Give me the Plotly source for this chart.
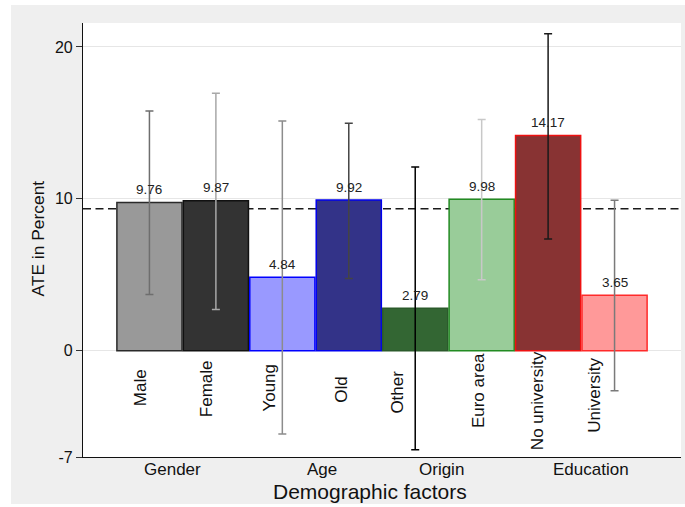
import plotly.graph_objects as go

# Average treatment effects by demographic subgroup, with confidence bounds
categories = ["Male", "Female", "Young", "Old", "Other", "Euro area", "No university", "University"]
ate = [9.76, 9.87, 4.84, 9.92, 2.79, 9.98, 14.17, 3.65]
ci_low = [3.70, 2.72, -5.48, 4.76, -6.53, 4.67, 7.35, -2.63]
ci_high = [15.78, 16.95, 15.13, 14.98, 12.10, 15.22, 20.88, 9.91]
overall_ate = 9.34

groups = ["Gender", "Age", "Origin", "Education"]
group_pos = [1.347, 3.597, 5.388, 7.646]

y_ticks = [-7, 0, 10, 20]
y_tick_text = ["-7", "0", "10", "20"]

# Styling per bar
fill_colors = ["#999999", "#333333", "#9999ff", "#333388", "#336633", "#99cc99", "#883333", "#ff9999"]
line_colors = ["#2a2a2a", "#111111", "#0000ff", "#0000ee", "#2b5a2b", "#228b22", "#ee1111", "#ff2a2a"]
err_colors = ["#6e6e6e", "#a8a8a8", "#8c8c8c", "#444444", "#000000", "#c8c8c8", "#1a1a1a", "#7a7a7a"]

# Placement of rotated category labels (x, y in data units)
label_x = [0.858, 1.859, 2.814, 3.898, 4.741, 5.952, 6.833, 7.706]
label_y = [-2.47, -2.50, -2.43, -2.57, -2.76, -2.63, -3.32, -2.96]

FONT = "Liberation Sans, Arial, Helvetica, sans-serif"

fig = go.Figure()
for i, cat in enumerate(categories):
    fig.add_trace(go.Bar(
        x=[i + 1], y=[ate[i]], width=0.98, name=cat,
        marker=dict(color=fill_colors[i], line=dict(color=line_colors[i], width=1.5)),
        error_y=dict(type="data", symmetric=False,
                     array=[ci_high[i] - ate[i]], arrayminus=[ate[i] - ci_low[i]],
                     color=err_colors[i], thickness=1.5, width=4),
        showlegend=False, hoverinfo="skip",
    ))

annotations = []
for i, v in enumerate(ate):
    annotations.append(dict(
        x=i + 1, y=v, xref="x", yref="y", text=f"{v:.2f}", showarrow=False,
        yanchor="middle", yshift=13, font=dict(family=FONT, size=13.5, color="#222222"),
    ))
for i, cat in enumerate(categories):
    annotations.append(dict(
        x=label_x[i], y=label_y[i], xref="x", yref="y", text=cat, showarrow=False,
        textangle=-90, xanchor="center", yanchor="middle",
        font=dict(family=FONT, size=17, color="#111111"),
    ))
# Group labels under the axis
for g, pos in zip(groups, group_pos):
    annotations.append(dict(
        x=pos, y=(457 - 469.5) / 434, xref="x", yref="paper", text=g, showarrow=False,
        xanchor="center", yanchor="middle", font=dict(family=FONT, size=17, color="#111111"),
    ))
# Axis titles
annotations.append(dict(
    x=(370 - 83) / 598, y=(457 - 492) / 434, xref="paper", yref="paper",
    text="Demographic factors", showarrow=False, xanchor="center", yanchor="middle",
    font=dict(family=FONT, size=21, color="#111111"),
))
annotations.append(dict(
    x=(37 - 83) / 598, y=(457 - 238.5) / 434, xref="paper", yref="paper",
    text="ATE in Percent", showarrow=False, textangle=-90, xanchor="center", yanchor="middle",
    font=dict(family=FONT, size=17.4, color="#111111"),
))

shapes = [
    # reference line for the overall effect
    dict(type="line", xref="paper", yref="y", x0=0, x1=1, y0=overall_ate, y1=overall_ate,
         line=dict(color="#1a1a1a", width=1.5, dash="8px,4.5px"), layer="below"),
    # white outer margins around the grey canvas
    dict(type="rect", xref="paper", yref="paper", x0=-0.2, x1=(11 - 83) / 598, y0=-0.2, y1=1.2,
         fillcolor="white", line=dict(width=0), layer="above"),
    dict(type="rect", xref="paper", yref="paper", x0=-0.2, x1=1.2, y0=(457 - 5) / 434, y1=1.2,
         fillcolor="white", line=dict(width=0), layer="above"),
    dict(type="rect", xref="paper", yref="paper", x0=-0.2, x1=1.2, y0=-0.2, y1=(457 - 504) / 434,
         fillcolor="white", line=dict(width=0), layer="above"),
]

fig.update_layout(
    width=685, height=507,
    margin=dict(l=83, r=4, t=23, b=50),
    paper_bgcolor="#efefef", plot_bgcolor="white",
    barmode="overlay",
    font=dict(family=FONT, color="#111111"),
    annotations=annotations, shapes=shapes,
    xaxis=dict(range=[0, 9], showgrid=False, zeroline=False, showline=True,
               linecolor="#111111", linewidth=1.2, showticklabels=False, ticks=""),
    yaxis=dict(range=[-7, 21.58], tickvals=y_ticks, ticktext=y_tick_text, showgrid=True,
               gridcolor="#e6e6e6", gridwidth=1, zeroline=False, showline=True,
               linecolor="#111111", linewidth=1.2,
               ticks="outside", ticklen=6, tickcolor="#333333", tickwidth=1,
               tickfont=dict(family=FONT, size=16, color="#111111")),
)

fig.write_html("out.html")
